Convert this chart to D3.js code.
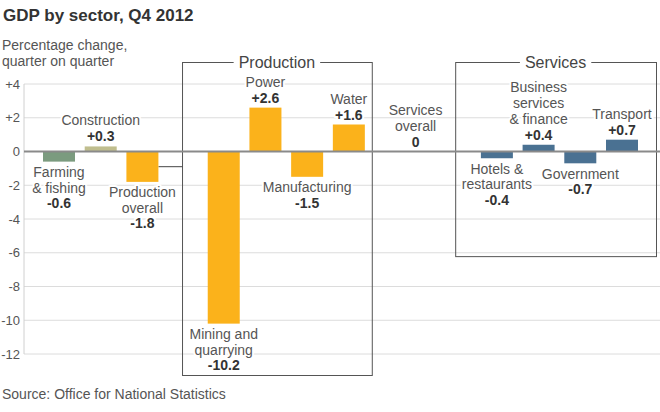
<!DOCTYPE html>
<html>
<head>
<meta charset="utf-8">
<script src="https://cdn.jsdelivr.net/npm/d3@7/dist/d3.min.js"></script>
<style>
  html, body { margin: 0; padding: 0; background: #fff; }
  svg { display: block; font-family: "Liberation Sans", Arial, Helvetica, sans-serif; }
</style>
</head>
<body>
<svg id="chart" width="660" height="412"></svg>
<script>
// ---- Data ----
const categories = ["Farming & fishing", "Construction", "Production overall", "Mining and quarrying",
  "Power", "Manufacturing", "Water", "Services overall", "Hotels & restaurants",
  "Business services & finance", "Government", "Transport"];
const labelLines = [["Farming", "& fishing"], ["Construction"], ["Production", "overall"],
  ["Mining and", "quarrying"], ["Power"], ["Manufacturing"], ["Water"], ["Services", "overall"],
  ["Hotels &", "restaurants"], ["Business", "services", "& finance"], ["Government"], ["Transport"]];
const values = [-0.6, 0.3, -1.8, -10.2, 2.6, -1.5, 1.6, 0, -0.4, 0.4, -0.7, 0.7];
const sectors = ["Agriculture", "Construction", "Production", "Production", "Production", "Production",
  "Production", "Services", "Services", "Services", "Services", "Services"];
const boxGroups = [null, null, null, "Production", "Production", "Production", "Production", null,
  "Services", "Services", "Services", "Services"];
const yTicks = [4, 2, 0, -2, -4, -6, -8, -10, -12];
const yTickLabels = ["+4", "+2", "0", "-2", "-4", "-6", "-8", "-10", "-12"];
const sectorColors = { Agriculture: "#7b9b7f", Construction: "#c0be8e", Production: "#fbb21b", Services: "#4a7192" };

// ---- Layout ----
const W = 660, H = 412;
const svg = d3.select("#chart");
const y = d3.scaleLinear().domain([-12, 4]).range([354, 84]);

// slot positions: step 1, extra gap when entering / leaving a boxed group
const slots = [];
let s = 0;
values.forEach((v, i) => {
  if (i > 0) {
    s += 1;
    const prev = boxGroups[i - 1], cur = boxGroups[i];
    if (cur && cur !== prev) s += 0.95;
    else if (!cur && prev) s += 0.6;
  }
  slots.push(s);
});
const x = d3.scaleLinear().domain([0, slots[slots.length - 1]]).range([59, 622]);
const unit = x(1) - x(0);
const barW = 32;

// ---- Titles ----
svg.append("text").attr("x", 3).attr("y", 21).attr("font-size", 17).attr("font-weight", "bold")
  .attr("fill", "#333").text("GDP by sector, Q4 2012");
svg.append("text").attr("x", 2).attr("y", 50).attr("font-size", 14).attr("fill", "#555").text("Percentage change,");
svg.append("text").attr("x", 2).attr("y", 66).attr("font-size", 14).attr("fill", "#555").text("quarter on quarter");
svg.append("text").attr("x", 2).attr("y", 399).attr("font-size", 14).attr("fill", "#555").text("Source: Office for National Statistics");

// ---- Grid & axis ----
const gridX0 = 24;
const grid = svg.append("g");
grid.selectAll("line").data(yTicks.filter(t => t !== 0)).join("line")
  .attr("x1", gridX0).attr("x2", W).attr("y1", d => y(d)).attr("y2", d => y(d))
  .attr("stroke", "#dcdcdc").attr("stroke-width", 1);
svg.append("line").attr("x1", gridX0).attr("x2", gridX0).attr("y1", y(4)).attr("y2", y(-12))
  .attr("stroke", "#d0d0d0").attr("stroke-width", 1);
svg.append("g").selectAll("text").data(yTicks).join("text")
  .attr("x", 20).attr("y", d => y(d)).attr("dy", "0.35em").attr("text-anchor", "end")
  .attr("font-size", 13).attr("fill", "#555").text((d, i) => yTickLabels[i]);

// ---- Group boxes ----
const boxTop = y(4) - 22;
function drawBox(name, bottom, rightEdge) {
  const idx = boxGroups.map((g, i) => g === name ? i : -1).filter(i => i >= 0);
  const left = x(slots[idx[0]]) - unit;
  const right = rightEdge;
  const g = svg.append("g");
  g.append("rect").attr("x", left + 0.5).attr("y", boxTop + 0.5)
    .attr("width", right - left).attr("height", bottom - boxTop)
    .attr("fill", "none").attr("stroke", "#555").attr("stroke-width", 1);
  const cx = (left + right) / 2;
  const t = g.append("text").attr("x", cx).attr("y", boxTop + 5.5).attr("text-anchor", "middle")
    .attr("font-size", 16).attr("fill", "#444").text(name);
  const bb = t.node().getBBox();
  g.insert("rect", "text").attr("x", bb.x - 5).attr("y", bb.y).attr("width", bb.width + 10)
    .attr("height", bb.height).attr("fill", "#fff");
  return { left, right };
}
const prodIdx = boxGroups.lastIndexOf("Production");
const prodBox = drawBox("Production", y(-12) + 21, x(slots[prodIdx]) + 0.55 * unit);
drawBox("Services", y(-6.2), W - 4);

// connector from "Production overall" bar to Production box
const poIdx = categories.indexOf("Production overall");
svg.append("line")
  .attr("x1", x(slots[poIdx]) + barW / 2).attr("x2", prodBox.left + 0.5)
  .attr("y1", y(values[poIdx] / 2)).attr("y2", y(values[poIdx] / 2))
  .attr("stroke", "#444").attr("stroke-width", 1);

// ---- Bars ----
svg.append("g").selectAll("rect").data(values).join("rect")
  .attr("x", (d, i) => x(slots[i]) - barW / 2)
  .attr("width", barW)
  .attr("y", d => y(Math.max(0, d)))
  .attr("height", d => Math.abs(y(d) - y(0)))
  .attr("fill", (d, i) => sectorColors[sectors[i]]);

// zero line
svg.append("line").attr("x1", gridX0).attr("x2", W).attr("y1", y(0)).attr("y2", y(0))
  .attr("stroke", "#8a8a8a").attr("stroke-width", 2);

// ---- Labels ----
const fmt = v => v > 0 ? "+" + v : (v === 0 ? "0" : String(v));
const lab = svg.append("g");
values.forEach((v, i) => {
  const cx = x(slots[i]);
  const lines = labelLines[i];
  const txt = [];
  if (v >= 0) {
    const vb = y(v) - 5;
    txt.push({ t: fmt(v), y: vb, bold: true });
    lines.slice().reverse().forEach((l, k) => txt.push({ t: l, y: vb - 16 * (k + 1), bold: false }));
  } else {
    const b0 = y(v) + 15.5;
    lines.forEach((l, k) => txt.push({ t: l, y: b0 + 15.5 * k, bold: false }));
    txt.push({ t: fmt(v), y: b0 + 15.5 * lines.length, bold: true });
  }
  txt.forEach(o => {
    lab.append("text").attr("x", cx).attr("y", o.y).attr("text-anchor", "middle")
      .attr("font-size", 14).attr("font-weight", o.bold ? "bold" : "normal")
      .attr("fill", o.bold ? "#333" : "#555")
      .attr("stroke", "#fff").attr("stroke-width", 4).attr("stroke-linejoin", "round")
      .attr("paint-order", "stroke")
      .text(o.t);
  });
});
</script>
</body>
</html>
